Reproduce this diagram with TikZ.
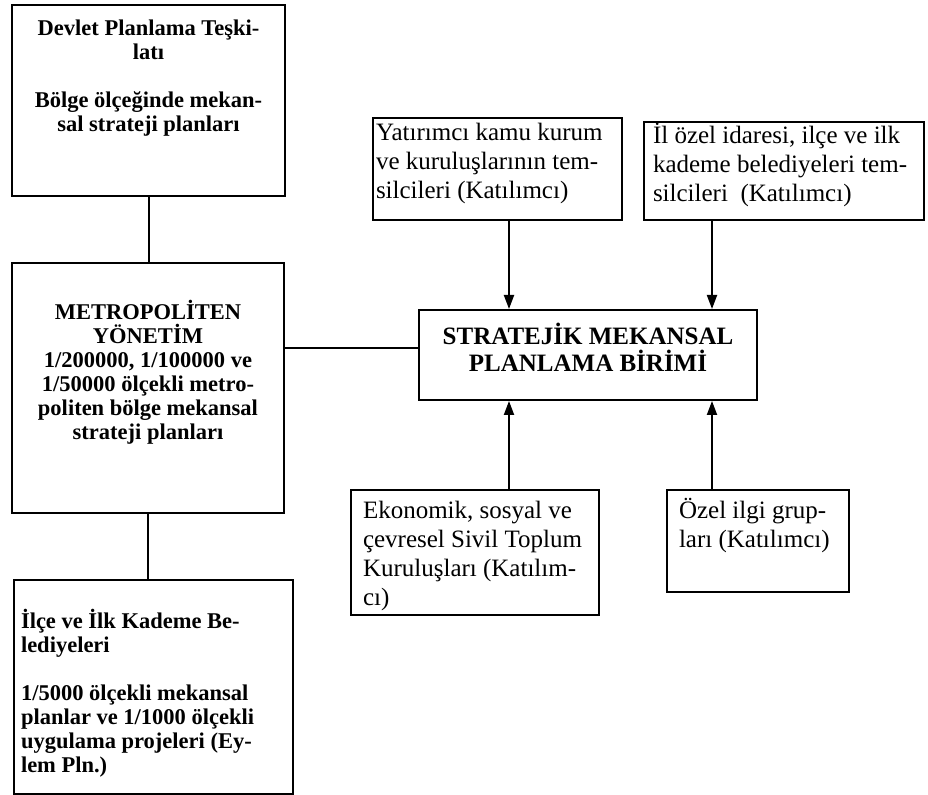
\documentclass[tikz,border=0pt]{standalone}
\usepackage{fontspec}
\setmainfont{Liberation Serif}
\usetikzlibrary{arrows.meta, calc}

\tikzset{
	box/.style={draw, line width=1pt, inner sep=0pt, anchor=north west},
	con/.style={line width=1pt},
	arr/.style={line width=1pt, -{Triangle[width=5pt, length=7pt]}}
}

\newcommand{\boldtxt}{\fontsize{11.25}{12}\selectfont\bfseries}
\newcommand{\plaintxt}{\fontsize{12.5}{14.5}\selectfont}

\begin{document}
\begin{tikzpicture}[x=0.5pt, y=-0.5pt]

	\useasboundingbox (0,0) rectangle (928,795);

	% left column
	\node[box] (dpt) at (11,4) {\parbox[c][95.5pt][t]{136.5pt}{\centering\boldtxt
		\rule{0pt}{15.5pt}Devlet Planlama Teşki-\\latı\\[12pt]Bölge ölçeğinde mekan-\\sal strateji planları}};
	\node[box] (met) at (11,262) {\parbox[c][125pt][t]{136pt}{\centering\boldtxt
		\rule{0pt}{28.5pt}METROPOLİTEN\\YÖNETİM\\1/200000, 1/100000 ve\\1/50000 ölçekli metro-\\politen bölge mekansal\\strateji planları}};
	\node[box] (ilc) at (13,579) {\parbox[c][107pt][t]{139.5pt}{\raggedright\boldtxt\leftskip=3.5pt
		\rule{0pt}{24.5pt}İlçe ve İlk Kademe Be-\\lediyeleri\\[12pt]
		1/5000 ölçekli mekansal\\planlar ve 1/1000 ölçekli\\uygulama projeleri (Ey-\\lem Pln.)}};

	% planning unit
	\node[box] (stb) at (418,309) {\parbox[c][45pt][t]{169pt}{\centering\fontsize{12.5}{13.5}\selectfont\bfseries
		\rule{0pt}{17.25pt}STRATEJİK MEKANSAL\\PLANLAMA BİRİMİ}};

	% participants
	\node[box] (yat) at (372,117) {\parbox[c][51pt][t]{124.5pt}{\raggedright\plaintxt\leftskip=1.5pt
		\rule{0pt}{11.5pt}Yatırımcı kamu kurum\\ve kuruluşlarının tem-\\silcileri (Katılımcı)}};
	\node[box] (ild) at (643,121) {\parbox[c][49pt][t]{140pt}{\raggedright\plaintxt\leftskip=4.5pt
		\rule{0pt}{11pt}İl özel idaresi, ilçe ve ilk\\kademe belediyeleri tem-\\silcileri\ \ (Katılımcı)}};
	\node[box] (eko) at (350,489) {\parbox[c][62.5pt][t]{124pt}{\raggedright\plaintxt\leftskip=6pt
		\rule{0pt}{14.5pt}Ekonomik, sosyal ve\\çevresel Sivil Toplum\\Kuruluşları (Katılım-\\cı)}};
	\node[box] (ozl) at (666,489) {\parbox[c][51pt][t]{91pt}{\raggedright\plaintxt\leftskip=6pt
		\rule{0pt}{14.5pt}Özel ilgi grup-\\ları (Katılımcı)}};

	% connectors
	\draw[con] (dpt.south) -- (dpt.south |- met.north);
	\draw[con] (met.south) -- (met.south |- ilc.north);
	\draw[con] ([yshift=3.5pt]stb.west) -- ([yshift=3.5pt]stb.west -| met.east);

	\coordinate (xa) at (509,0);
	\coordinate (xb) at (712,0);
	\draw[arr] (yat.south -| xa) -- (stb.north -| xa);
	\draw[arr] (ild.south -| xb) -- (stb.north -| xb);
	\draw[arr] (eko.north -| xa) -- (stb.south -| xa);
	\draw[arr] (ozl.north -| xb) -- (stb.south -| xb);

\end{tikzpicture}
\end{document}
